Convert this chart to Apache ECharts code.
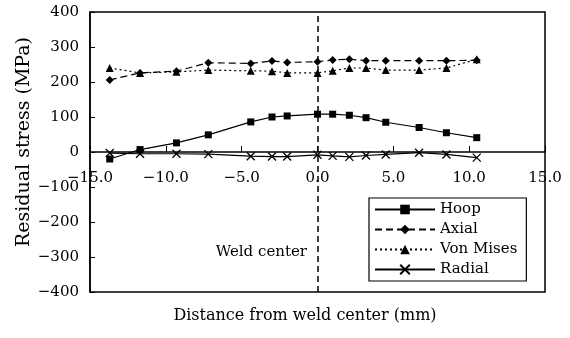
<!DOCTYPE html>
<html><head><meta charset="utf-8">
<script src="https://cdn.jsdelivr.net/npm/echarts@6/dist/echarts.min.js"></script>
<style>html,body{margin:0;padding:0;background:#fff}#c{width:570px;height:338px}</style>
</head><body><div id="c"></div>
<script>
// Distance from weld center (mm)
const distances = [-13.7, -11.7, -9.3, -7.2, -4.4, -3.0, -2.0, 0.0, 1.0, 2.1, 3.2, 4.5, 6.7, 8.5, 10.5];
// Residual stress (MPa)
const hoop      = [-20, 7, 26, 49, 86, 100, 103, 108, 108, 105, 98, 85, 70, 55, 41];
const axial     = [206, 226, 231, 255, 253, 260, 256, 258, 263, 265, 261, 261, 261, 261, 262];
const vonMises  = [240, 226, 229, 234, 232, 231, 226, 226, 232, 240, 240, 234, 234, 240, 265];
const radial    = [-3, -5, -5, -6, -12, -13, -13, -8, -11, -14, -10, -7, -2, -7, -16];
const seriesNames = ['Hoop', 'Axial', 'Von Mises', 'Radial'];
const weldCenter = 0;

const FONT = 'DejaVu Serif';
const pairs = ys => distances.map((x, i) => [x, ys[i]]);
const minus = s => String(s).replace('-', '\u2212');

const chart = echarts.init(document.getElementById('c'), null, {renderer: 'canvas'});
const baseLine = {color: '#000', width: 1.2};
chart.setOption({
  animation: false,
  backgroundColor: '#fff',
  textStyle: {fontFamily: FONT, color: '#000'},
  grid: {left: 90, right: 25, top: 12, bottom: 46, show: true, borderColor: '#000', borderWidth: 1.5, backgroundColor: 'transparent'},
  xAxis: {
    type: 'value', min: -15, max: 15, interval: 5,
    position: 'bottom', offset: -140,
    axisLine: {onZero: false, lineStyle: {color: '#000', width: 1.5}},
    axisTick: {inside: true, length: 6, lineStyle: {color: '#000'}},
    axisLabel: {margin: 19, fontFamily: FONT, fontSize: 15, color: '#000', formatter: v => minus(v.toFixed(1)), showMinLabel: true, showMaxLabel: true},
    splitLine: {show: false}
  },
  yAxis: {
    type: 'value', min: -400, max: 400, interval: 100,
    axisLine: {show: true, onZero: false, lineStyle: {color: '#000', width: 1.5}},
    axisTick: {inside: true, length: 5, lineStyle: {color: '#000'}},
    axisLabel: {margin: 11, fontFamily: FONT, fontSize: 15, color: '#000', formatter: v => minus(v)},
    splitLine: {show: false}
  },
  legend: {
    orient: 'vertical', left: 369, top: 198,
    backgroundColor: '#fff', borderColor: '#000', borderWidth: 1.2,
    padding: [4, 9, 4, 5], itemGap: 5, itemWidth: 60, itemHeight: 12,
    textStyle: {fontFamily: FONT, fontSize: 15, color: '#000'},
    data: seriesNames
  },
  series: [
    {name: seriesNames[0], type: 'line', data: pairs(hoop), symbol: 'rect', symbolSize: 7,
     lineStyle: Object.assign({type: 'solid'}, baseLine), itemStyle: {color: '#000'}, z: 3,
     markLine: {silent: true, symbol: ['none', 'none'], label: {show: false},
       lineStyle: {type: [6, 4], color: '#000', width: 1.5}, data: [{xAxis: weldCenter}]}},
    {name: seriesNames[1], type: 'line', data: pairs(axial), symbol: 'diamond', symbolSize: 8,
     lineStyle: Object.assign({type: [7, 4]}, baseLine), itemStyle: {color: '#000'}, z: 3},
    {name: seriesNames[2], type: 'line', data: pairs(vonMises), symbol: 'triangle', symbolSize: 8,
     lineStyle: Object.assign({type: [2, 3]}, baseLine), itemStyle: {color: '#000'}, z: 3},
    {name: seriesNames[3], type: 'line', data: pairs(radial), symbol: 'path://M0,0L10,10M10,0L0,10', symbolSize: 8,
     lineStyle: Object.assign({type: 'solid'}, baseLine), itemStyle: {color: 'none', borderColor: '#000', borderWidth: 1.3}, z: 3}
  ],
  graphic: [
    {type: 'text', x: 307, y: 252, style: {text: 'Weld center', font: '15px "DejaVu Serif"', fill: '#000', align: 'right', verticalAlign: 'middle'}},
    {type: 'text', x: 305, y: 316, style: {text: 'Distance from weld center (mm)', font: '16px "DejaVu Serif"', fill: '#000', align: 'center', verticalAlign: 'middle'}},
    {type: 'text', x: 24, y: 142, rotation: Math.PI / 2, style: {text: 'Residual stress (MPa)', font: '19px "DejaVu Serif"', fill: '#000', align: 'center', verticalAlign: 'middle'}}
  ]
});
</script></body></html>
